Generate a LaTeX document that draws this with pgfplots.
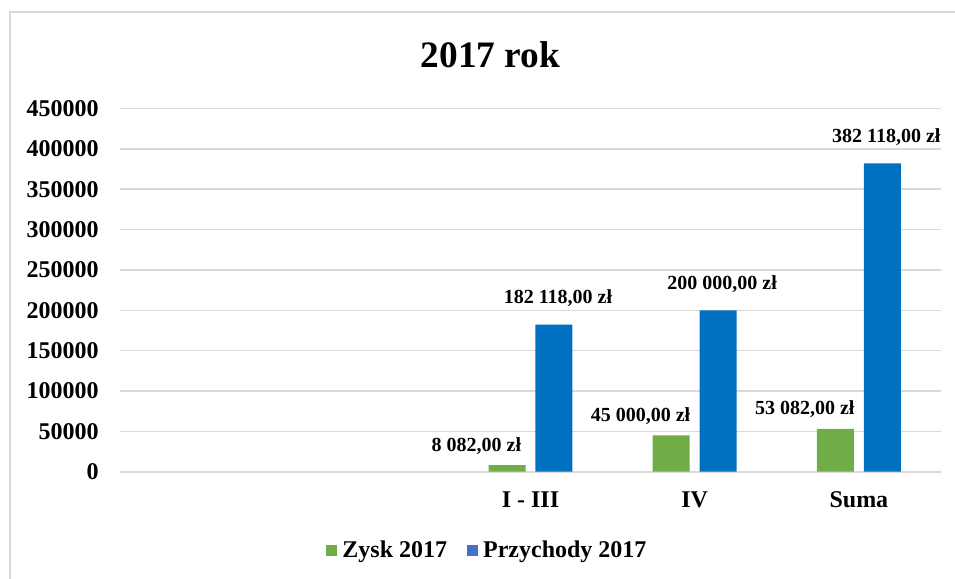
\documentclass[border=0pt]{standalone}
\usepackage{pgfplots}
\pgfplotsset{compat=1.18}
\usepackage{fontspec}
\setmainfont{Liberation Serif}

\definecolor{zysk}{HTML}{70AD47}
\definecolor{przych}{HTML}{0070C0}
\definecolor{przychleg}{HTML}{4472C4}
\definecolor{gridgray}{HTML}{D9D9D9}

\begin{document}
\begin{tikzpicture}
% page size: 955 x 578 px at 0.75 pt per px
\useasboundingbox (0,0) rectangle (716.25pt,433.5pt);
\draw[gridgray, line width=1.2pt] (7.5pt,-10pt) -- (7.5pt,424.5pt) -- (730pt,424.5pt);

\node[anchor=base, font=\bfseries\fontsize{28}{28}\selectfont] at (367.9pt,382.5pt) {2017 rok};

\begin{axis}[
    at={(90pt,79.7pt)}, anchor=south west,
    scale only axis,
    width=615.75pt, height=272.4pt,
    xmin=-0.5, xmax=4.5,
    ymin=0, ymax=450000,
    ytick distance=50000,
    xtick={2,3,4},
    xticklabels={I - III, IV, Suma},
    scaled y ticks=false,
    y tick label style={/pgf/number format/fixed, /pgf/number format/set thousands separator={}, /pgf/number format/precision=0},
    /pgf/number format/assume math mode=true,
    ymajorgrids,
    grid style={gridgray, line width=1.2pt},
    axis line style={draw=none},
    tick style={draw=none},
    major tick length=0pt,
    ticklabel style={font=\bfseries\fontsize{18}{18}\selectfont, inner sep=0pt},
    yticklabel style={anchor=east, xshift=-15.75pt},
    xticklabel style={anchor=base, yshift=-27pt},
    ybar, bar width=27.75pt,
    point meta=explicit symbolic,
    nodes near coords,
    legend columns=2,
    legend style={at={(0.448,-0.216)}, anchor=center, draw=none, fill=none,
        font=\bfseries\fontsize{18}{18}\selectfont,
        /tikz/every even column/.append style={column sep=13pt}},
    legend cell align=left,
]

% Zysk 2017
\addplot[fill=zysk, draw=none, bar shift=-17.6pt,
    every node near coord/.append style={anchor=center, xshift=-23pt, yshift=14.5pt,
        font=\bfseries\fontsize{15}{15}\selectfont},
    legend image code/.code={\fill[zysk] (0pt,-4.1pt) rectangle (8.25pt,4.1pt);
        \path (0pt,0pt) -- (10pt,0pt);}]
    coordinates {(2,8082) [8 082,00 zł] (3,45000) [45 000,00 zł] (4,53082) [53 082,00 zł]};
\addlegendentry{Zysk 2017}

% Przychody 2017
\addplot[fill=przych, draw=none, bar shift=17.6pt,
    every node near coord/.append style={anchor=center, xshift=3pt, yshift=20pt,
        font=\bfseries\fontsize{15}{15}\selectfont},
    legend image code/.code={\fill[przychleg] (0pt,-4.1pt) rectangle (8.25pt,4.1pt);
        \path (0pt,0pt) -- (10pt,0pt);}]
    coordinates {(2,182118) [182 118,00 zł] (3,200000) [200 000,00 zł] (4,382118) [382 118,00 zł]};
\addlegendentry{Przychody 2017}

\end{axis}
\end{tikzpicture}
\end{document}
